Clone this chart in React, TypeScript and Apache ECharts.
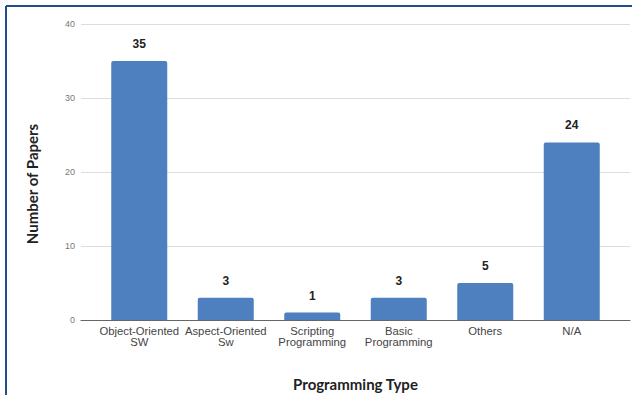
import React, { useEffect, useRef } from "react";
import * as echarts from "echarts";

const categories = [
  "Object-Oriented\nSW",
  "Aspect-Oriented\nSw",
  "Scripting\nProgramming",
  "Basic\nProgramming",
  "Others",
  "N/A",
];
const paperCounts = [35, 3, 1, 3, 5, 24];
const yTicks = { min: 0, max: 40, interval: 10 };

const BAR_COLOR = "#4e7fbe";
const FRAME_COLOR = "#1f4e8c";

export default function App() {
  const ref = useRef<HTMLDivElement>(null);

  useEffect(() => {
    if (!ref.current) return;
    const chart = echarts.init(ref.current, null, { renderer: "svg" });
    chart.setOption({
      animation: false,
      backgroundColor: "#ffffff",
      textStyle: { fontFamily: "Liberation Sans, Arial, sans-serif" },
      grid: [
        { left: 81, right: 2, top: 24, bottom: 75, outerBoundsMode: "none" },
        { left: 96, right: 17, top: 24, bottom: 75, outerBoundsMode: "none" },
      ],
      xAxis: [
        {
          gridIndex: 0,
          type: "value",
          min: 0,
          max: 1,
          axisLine: { show: true, lineStyle: { color: "#666666", width: 1 } },
          axisTick: { show: false },
          axisLabel: { show: false },
          splitLine: { show: false },
        },
        {
          gridIndex: 1,
          type: "category",
          data: categories,
          name: "Programming Type",
          nameLocation: "middle",
          nameGap: 56,
          nameMoveOverlap: false,
          nameTextStyle: {
            fontFamily: "Lato, Open Sans, sans-serif",
            fontWeight: "bold",
            fontSize: 15,
            color: "#222222",
          },
          axisLine: { show: false },
          axisTick: { show: false },
          axisLabel: {
            interval: 0,
            margin: 6,
            fontSize: 11.3,
            lineHeight: 10.5,
            color: "#444444",
          },
        },
      ],
      yAxis: [
        {
          gridIndex: 0,
          type: "value",
          min: yTicks.min,
          max: yTicks.max,
          interval: yTicks.interval,
          name: "Number of Papers",
          nameLocation: "middle",
          nameGap: 42,
          nameMoveOverlap: false,
          nameTextStyle: {
            fontFamily: "Lato, Open Sans, sans-serif",
            fontWeight: "bold",
            fontSize: 15,
            color: "#222222",
            padding: [0, 24, 0, 0],
          },
          axisLine: { show: false },
          axisTick: { show: false },
          axisLabel: { margin: 6, fontSize: 9, color: "#777777" },
          splitLine: { lineStyle: { color: "#dddddd", width: 1 } },
        },
        {
          gridIndex: 1,
          type: "value",
          min: yTicks.min,
          max: yTicks.max,
          interval: yTicks.interval,
          show: false,
          splitLine: { show: false },
        },
      ],
      series: [
        {
          type: "bar",
          xAxisIndex: 1,
          yAxisIndex: 1,
          data: paperCounts,
          barWidth: 56,
          itemStyle: { color: BAR_COLOR, borderRadius: [2, 2, 0, 0] },
          label: {
            show: true,
            position: "top",
            distance: 11,
            fontWeight: "bold",
            fontSize: 12,
            color: "#222222",
          },
        },
      ],
      graphic: [
        {
          type: "line",
          shape: { x1: 6, y1: 6, x2: 632, y2: 6 },
          style: { stroke: FRAME_COLOR, lineWidth: 2 },
        },
        {
          type: "line",
          shape: { x1: 6, y1: 6, x2: 6, y2: 395 },
          style: { stroke: FRAME_COLOR, lineWidth: 2 },
        },
      ],
    });
    return () => chart.dispose();
  }, []);

  return (
    <div
      ref={ref}
      style={{ position: "fixed", left: 0, top: 0, width: 632, height: 395 }}
    />
  );
}
